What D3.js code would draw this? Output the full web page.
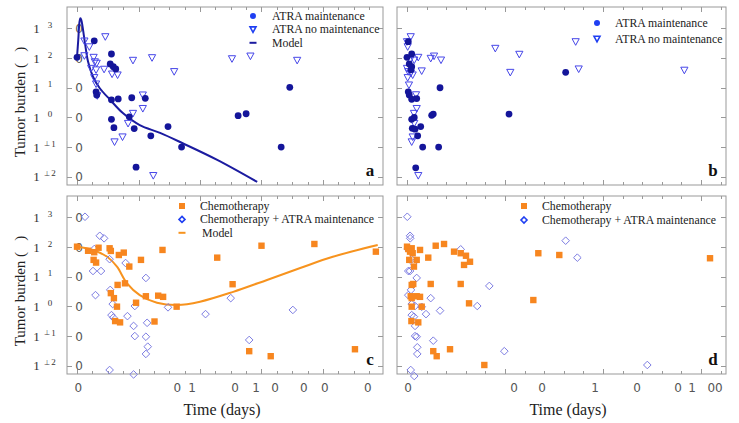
<!DOCTYPE html>
<html>
<head>
<meta charset="utf-8">
<script src="https://cdn.jsdelivr.net/npm/d3@7"></script>
<style>
  body { margin: 0; background: #fff; }
  text { font-family: "Liberation Serif", "Times New Roman", serif; }
</style>
</head>
<body>
<svg id="chart" width="739" height="423"></svg>
<script>
// ---- data: [time (days), tumor burden] ----
const aMaint = [[0,106],[28,380],[56,137],[54,63],[59,51],[63,43],[31,7.3],[32,5.7],[56,3.9],[67,4.2],
  [89,4.6],[111,4.4],[56,0.86],[60,0.45],[85,1.05],[93,0.42],[96,0.021],[120,0.24],[148,0.49],[170,0.10],
  [262,1.14],[275,1.33],[332,0.10],[346,10.3]];
const aNoMaint = [[12,376],[20,240],[46,525],[12,120],[27,106],[29,75],[32,67],[23,45],[31,40],[44,42],
  [28,22],[31,13.4],[33,5.4],[57,29],[66,27],[91,84],[122,103],[158,35],[252,95],[282,117],[358,84],
  [107,5.7],[107,2.0],[91,1.37],[83,0.63],[74,0.22],[61,0.15],[124,0.011]];
const aModel = [[0,109],[2,405],[4,1640],[5.5,2190],[7,1920],[9,1140],[13,314],[18,75],[26,23.5],[37,9.6],
  [54,3.9],[75,1.37],[102,0.55],[135,0.30],[171,0.137],[228,0.037],[293,0.0067]];

const bMaint = [[0,106],[13,356],[48,137],[23,63],[48,51],[41,40],[13,7.3],[23,5.7],[48,4.1],[99,4.3],
  [337,10],[48,0.86],[74,1.0],[54,0.43],[82,0.40],[140,0.49],[109,0.24],[160,0.10],[323,0.10],[89,0.020],
  [252,1.18],[268,1.30],[1041,1.3],[1619,33]];
const bNoMaint = [[38,525],[0,356],[7,241],[0,45],[31,86],[74,86],[115,106],[13,35],[38,31],[58,27],
  [7,22],[20,12.4],[150,37],[242,98],[276,117],[347,86],[92,5.8],[99,2.0],[71,1.37],[74,0.63],[58,0.22],
  [48,0.15],[115,0.011],[901,213],[1146,134],[1054,33],[1721,356],[1752,43],[2830,39]];

const cChemo = [[0,103],[18,75],[28,67],[35,95],[27,37],[31,30],[53,91],[55,74],[68,54],[76,65],[85,22],
  [104,37],[139,80],[78,6.0],[66,5.3],[55,2.8],[60,1.9],[65,0.98],[96,1.33],[112,2.2],[132,2.3],[140,2.1],
  [162,0.98],[62,0.32],[70,0.29],[126,0.31],[228,44],[253,5.6],[300,111],[386,127],[280,0.031],[315,0.021],
  [452,0.036],[486,70]];
const cChemoAtra = [[13,1050],[37,240],[44,197],[28,86],[53,39],[79,29],[26,15.6],[39,15.6],[112,9.1],
  [54,3.6],[30,2.4],[58,1.2],[56,0.51],[59,0.42],[82,0.47],[94,1.03],[92,0.22],[94,0.10],[114,0.28],
  [112,0.095],[115,0.044],[112,0.025],[53,0.0072],[92,0.0051],[148,0.93],[209,0.55],[250,1.9],[280,0.074],
  [351,0.76]];
const cModel = [[0,103],[26,80],[49,47],[65,21.8],[81,6.1],[102,2.4],[130,1.33],[163,1.11],[200,1.44],
  [254,3.1],[309,7.8],[363,19.7],[416,47],[489,117]];

const dChemo = [[0,103],[13,86],[48,91],[58,62],[31,70],[133,80],[23,37],[99,37],[71,22],[217,44],[293,111],
  [378,127],[480,70],[548,62],[602,51],[643,32],[582,25],[48,5.3],[64,5.7],[242,5.7],[548,5.7],[38,2.2],
  [99,2.2],[133,2.1],[48,1.9],[48,0.98],[150,0.98],[633,1.27],[45,0.32],[115,0.29],[268,0.031],[303,0.021],
  [439,0.036],[789,0.0106],[1289,1.64],[1340,62],[1554,54],[3092,42]];
const dChemoAtra = [[3,1050],[31,240],[33,197],[7,86],[48,39],[64,29],[13,15.6],[31,15.6],[99,9.1],[41,3.6],
  [13,2.4],[48,1.2],[48,0.51],[71,0.45],[82,1.03],[150,0.97],[194,0.55],[242,1.9],[337,0.72],[82,0.22],
  [82,0.10],[99,0.095],[105,0.042],[105,0.025],[38,0.0072],[74,0.0045],[268,0.070],[548,84],[717,1.03],
  [840,4.9],[993,0.031],[1619,164],[1738,44],[2452,0.0106]];

// ---- axis ticks and (damaged) tick labels as printed ----
const yTickValues = [1e-2, 1e-1, 1e0, 1e1, 1e2, 1e3];
const yTickSup = ["⊥ 2", "⊥ 1", "0", "1", "2", "3"];
const shortMajor = [0, 100, 200, 300, 400];
const longMajor = [0, 1000, 2000, 3000];
const cTickLabels = [[2,"0"],[163,"0"],[187,"1"],[257,"0"],[291,"1"],[322,"0"],[369,"0"],[403,"0"],[473,"0"]];
const dTickLabels = [[10,"0"],[1092,"0"],[1378,"0"],[1918,"1"],[2347,"0"],[2765,"0"],[2908,"1"],[3143,"00"]];

const yDomain = [Math.pow(10, -2.278), Math.pow(10, 3.721)];
const shortDomain = [-16.3, 497.6];
const longDomain = [-102, 3255];

const svg = d3.select("#chart");

const shapes = {
  tri: "M-3.6,-3L3.6,-3L0,3.6Z",
  diamond: "M0,-3.8L3.8,0L0,3.8L-3.8,0Z"
};

function drawPanel(p) {
  const x = d3.scaleLinear().domain(p.xDomain).range([p.left, p.right]);
  const y = d3.scaleLog().domain(yDomain).range([p.bottom, p.top]);
  const g = svg.append("g");

  g.append("rect")
    .attr("x", p.left).attr("y", p.top)
    .attr("width", p.right - p.left).attr("height", p.bottom - p.top)
    .attr("fill", "none").attr("stroke", "#999").attr("stroke-width", 1);

  // x ticks, pointing inward on bottom and top
  const minor = d3.range(0, p.xDomain[1], p.minorStep).filter(t => !p.major.includes(t));
  [[p.major, 5], [minor, 3]].forEach(([vals, len]) => {
    vals.forEach(t => {
      const xx = Math.round(x(t)) + 0.5;
      g.append("line").attr("x1", xx).attr("x2", xx).attr("y1", p.bottom).attr("y2", p.bottom - len)
        .attr("stroke", "#999");
      g.append("line").attr("x1", xx).attr("x2", xx).attr("y1", p.top).attr("y2", p.top + len)
        .attr("stroke", "#999");
    });
  });
  // y ticks on left and right
  yTickValues.forEach(v => {
    const yy = Math.round(y(v)) + 0.5;
    g.append("line").attr("x1", p.left).attr("x2", p.left + 5).attr("y1", yy).attr("y2", yy).attr("stroke", "#999");
    g.append("line").attr("x1", p.right).attr("x2", p.right - 5).attr("y1", yy).attr("y2", yy).attr("stroke", "#999");
  });

  if (p.yLabels) {
    yTickValues.forEach((v, i) => {
      const yy = y(v);
      g.append("text").attr("x", 36.5).attr("y", yy + 4.5).attr("text-anchor", "middle")
        .attr("font-size", 13).attr("fill", "#333").text("1");
      const sup = yTickSup[i];
      if (sup.length > 1) {
        g.append("text").attr("x", 46.5).attr("y", yy - 1).attr("text-anchor", "middle")
          .attr("font-size", 7).attr("fill", "#444").text(sup[0]);
        g.append("text").attr("x", 53.5).attr("y", yy - 0.5).attr("text-anchor", "middle")
          .attr("font-size", 9).attr("fill", "#333").text(sup[2]);
      } else {
        g.append("text").attr("x", 50).attr("y", yy - 0.5).attr("text-anchor", "middle")
          .attr("font-size", 9).attr("fill", "#333").text(sup);
      }
      g.append("text").attr("x", 79).attr("y", yy + 4.5).attr("text-anchor", "middle")
        .style("font-family", "'DejaVu Sans', sans-serif")
        .attr("font-size", 12).attr("fill", "#555").text("0");
    });
    g.append("text")
      .attr("transform", `translate(25,${(p.top + p.bottom) / 2 + 6}) rotate(-90)`)
      .attr("text-anchor", "middle").attr("font-size", 15).attr("fill", "#222")
      .text("Tumor burden (\u00a0\u00a0\u00a0)");
  }

  if (p.xLabels) {
    p.xLabels.forEach(([t, s]) => {
      g.append("text").attr("x", x(t)).attr("y", 392).attr("text-anchor", "middle")
        .style("font-family", "'DejaVu Sans', sans-serif")
        .attr("font-size", 12).attr("fill", "#555").text(s);
    });
    g.append("text").attr("x", p.titleX).attr("y", 415).attr("text-anchor", "middle")
      .attr("font-size", 16).attr("fill", "#222").text("Time (days)");
  }

  // model curve
  if (p.model) {
    const line = d3.line().x(d => x(d[0])).y(d => y(d[1])).curve(d3.curveCatmullRom.alpha(0.5));
    g.append("path").attr("d", line(p.model.data))
      .attr("fill", "none").attr("stroke", p.model.color).attr("stroke-width", 2);
  }

  // series
  p.series.forEach(s => {
    const sel = g.append("g").selectAll("path").data(s.data).enter();
    if (s.kind === "circle") {
      sel.append("circle").attr("cx", d => x(d[0])).attr("cy", d => y(d[1])).attr("r", 3.4)
        .attr("fill", s.color);
    } else if (s.kind === "square") {
      sel.append("rect").attr("x", d => x(d[0]) - 3.2).attr("y", d => y(d[1]) - 3.2)
        .attr("width", 6.4).attr("height", 6.4).attr("fill", s.color);
    } else {
      sel.append("path").attr("d", shapes[s.kind])
        .attr("transform", d => `translate(${x(d[0])},${y(d[1])})`)
        .attr("fill", "none").attr("stroke", s.color).attr("stroke-width", 1);
    }
  });

  // legend
  p.legend.items.forEach((it, i) => {
    const ly = p.legend.y + i * p.legend.dy;
    const mx = p.legend.x;
    if (it.kind === "circle") {
      g.append("circle").attr("cx", mx).attr("cy", ly).attr("r", 3).attr("fill", it.color);
    } else if (it.kind === "square") {
      g.append("rect").attr("x", mx - 3).attr("y", ly - 3).attr("width", 6).attr("height", 6).attr("fill", it.color);
    } else if (it.kind === "line") {
      g.append("line").attr("x1", mx - 3.5).attr("x2", mx + 3.5).attr("y1", ly).attr("y2", ly)
        .attr("stroke", it.color).attr("stroke-width", 2);
    } else {
      g.append("path").attr("d", it.kind === "tri" ? "M-3,-2.5L3,-2.5L0,3Z" : "M0,-3L3,0L0,3L-3,0Z")
        .attr("transform", `translate(${mx},${ly})`)
        .attr("fill", "none").attr("stroke", it.color).attr("stroke-width", 1.6);
    }
    g.append("text").attr("x", mx + p.legend.gap + (it.indent || 0)).attr("y", ly + 4)
      .attr("font-size", 11.8).attr("fill", "#222").text(it.label);
  });

  g.append("text").attr("x", p.right - 13).attr("y", p.bottom - 9).attr("text-anchor", "middle")
    .attr("font-size", 17).attr("font-weight", "bold").attr("fill", "#111").text(p.tag);
}

const navy = "#14159a", triBlue = "#4646e8", legBlue = "#1f3ff2";
const orange = "#f7861f", diaBlue = "#7c7ce2";

drawPanel({
  left: 67, right: 383, top: 7, bottom: 185, xDomain: shortDomain, major: shortMajor, minorStep: 25,
  yLabels: true, tag: "a",
  model: { data: aModel, color: "#1b1ba0" },
  series: [{ data: aNoMaint, kind: "tri", color: triBlue }, { data: aMaint, kind: "circle", color: navy }],
  legend: { x: 253, y: 16, dy: 13.4, gap: 19, items: [
    { kind: "circle", color: legBlue, label: "ATRA maintenance" },
    { kind: "tri", color: legBlue, label: "ATRA no maintenance" },
    { kind: "line", color: "#1b1ba0", label: "Model" }] }
});
drawPanel({
  left: 397, right: 726, top: 7, bottom: 185, xDomain: longDomain, major: longMajor, minorStep: 200,
  tag: "b",
  series: [{ data: bNoMaint, kind: "tri", color: triBlue }, { data: bMaint, kind: "circle", color: navy }],
  legend: { x: 597, y: 23, dy: 15.8, gap: 18, items: [
    { kind: "circle", color: legBlue, label: "ATRA maintenance" },
    { kind: "tri", color: legBlue, label: "ATRA no maintenance" }] }
});
drawPanel({
  left: 67, right: 383, top: 196, bottom: 374, xDomain: shortDomain, major: shortMajor, minorStep: 25,
  yLabels: true, xLabels: cTickLabels, titleX: 222, tag: "c",
  model: { data: cModel, color: "#f7931e" },
  series: [{ data: cChemoAtra, kind: "diamond", color: diaBlue }, { data: cChemo, kind: "square", color: orange }],
  legend: { x: 182, y: 206, dy: 13.4, gap: 18, items: [
    { kind: "square", color: orange, label: "Chemotherapy" },
    { kind: "diamond", color: legBlue, label: "Chemotherapy + ATRA maintenance" },
    { kind: "line", color: "#f7931e", label: "Model", indent: 2 }] }
});
drawPanel({
  left: 397, right: 726, top: 196, bottom: 374, xDomain: longDomain, major: longMajor, minorStep: 200,
  xLabels: dTickLabels, titleX: 568, tag: "d",
  series: [{ data: dChemoAtra, kind: "diamond", color: diaBlue }, { data: dChemo, kind: "square", color: orange }],
  legend: { x: 524, y: 206, dy: 14, gap: 18, items: [
    { kind: "square", color: orange, label: "Chemotherapy" },
    { kind: "diamond", color: legBlue, label: "Chemotherapy + ATRA maintenance" }] }
});
</script>
</body>
</html>
